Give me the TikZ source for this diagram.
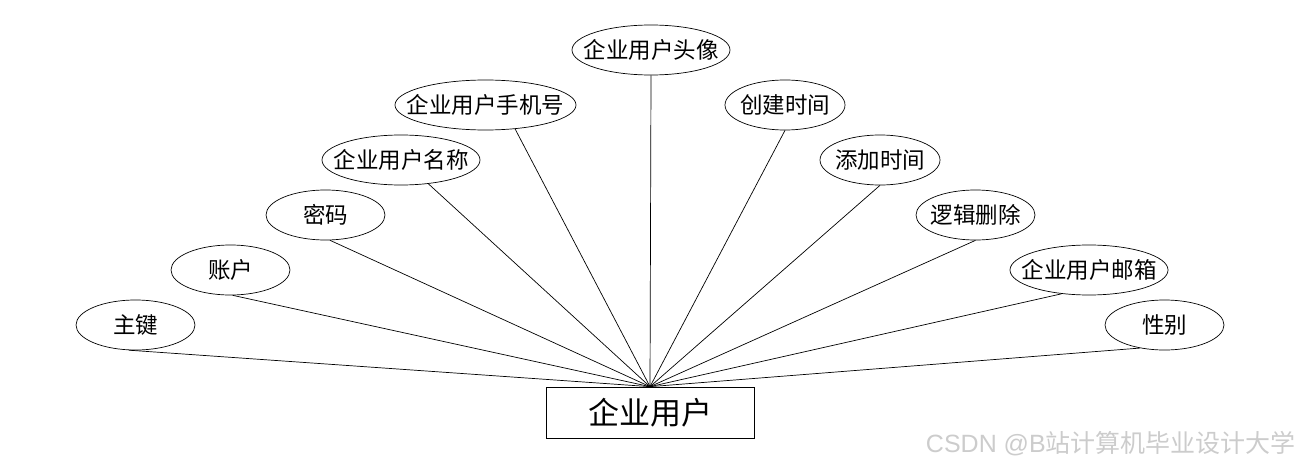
\documentclass[tikz,border=0pt]{standalone}
\usepackage{fontspec}
\newfontfamily\cjk{Noto Sans CJK SC}
\newfontfamily\lat{Liberation Sans}
\usetikzlibrary{shapes.geometric}
\begin{document}
\begin{tikzpicture}[x=1pt,y=-1pt,
  attr/.style={draw,ellipse,line width=0.7pt,inner sep=0pt,minimum height=50pt},
  atext/.style={font=\cjk\fontsize{22.5}{24}\selectfont},
  ent/.style={draw,rectangle,line width=0.7pt,inner sep=0pt,minimum width=208pt,minimum height=51pt,font=\cjk\fontsize{31}{34}\selectfont},
  link/.style={line width=0.7pt}]
\useasboundingbox (0,0) rectangle (1300,468);
\node[ent] (r) at (650,412.5) {企业用户};
\node[attr,minimum width=119pt,label={[atext]center:主键}] (e1) at (135.5,325) {};
\node[attr,minimum width=119pt,label={[atext]center:账户}] (e2) at (230.5,270) {};
\node[attr,minimum width=119pt,label={[atext]center:密码}] (e3) at (325.5,215) {};
\node[attr,minimum width=158pt,label={[atext]center:企业用户名称}] (e4) at (401,160) {};
\node[attr,minimum width=181pt,label={[atext]center:企业用户手机号}] (e5) at (485.5,105) {};
\node[attr,minimum width=158pt,label={[atext]center:企业用户头像}] (e6) at (651,50) {};
\node[attr,minimum width=120pt,label={[atext]center:创建时间}] (e7) at (785,105) {};
\node[attr,minimum width=120pt,label={[atext]center:添加时间}] (e8) at (880,160) {};
\node[attr,minimum width=119pt,label={[atext]center:逻辑删除}] (e9) at (975.5,215) {};
\node[attr,minimum width=158pt,label={[atext]center:企业用户邮箱}] (e10) at (1089,270) {};
\node[attr,minimum width=119pt,label={[atext]center:性别}] (e11) at (1164.5,325) {};
\draw[link] (e1.-105) -- (r.north);
\draw[link] (e2.-85) -- (r.north);
\draw[link] (e3.-80) -- (r.north);
\draw[link] (e4.-41) -- (r.north);
\draw[link] (e5.-39) -- (r.north);
\draw[link] (e6.south) -- (r.north);
\draw[link] (e7.south) -- (r.north);
\draw[link] (e8.south) -- (r.north);
\draw[link] (e9.south) -- (r.north);
\draw[link] (e10.-139) -- (r.north);
\draw[link] (e11.-137) -- (r.north);
\node[anchor=east,text=black!20,font=\cjk\fontsize{25}{27}\selectfont,inner sep=0pt] (wm) at (1296,444) {{\lat CSDN @B}站计算机毕业设计大学};
\end{tikzpicture}
\end{document}
